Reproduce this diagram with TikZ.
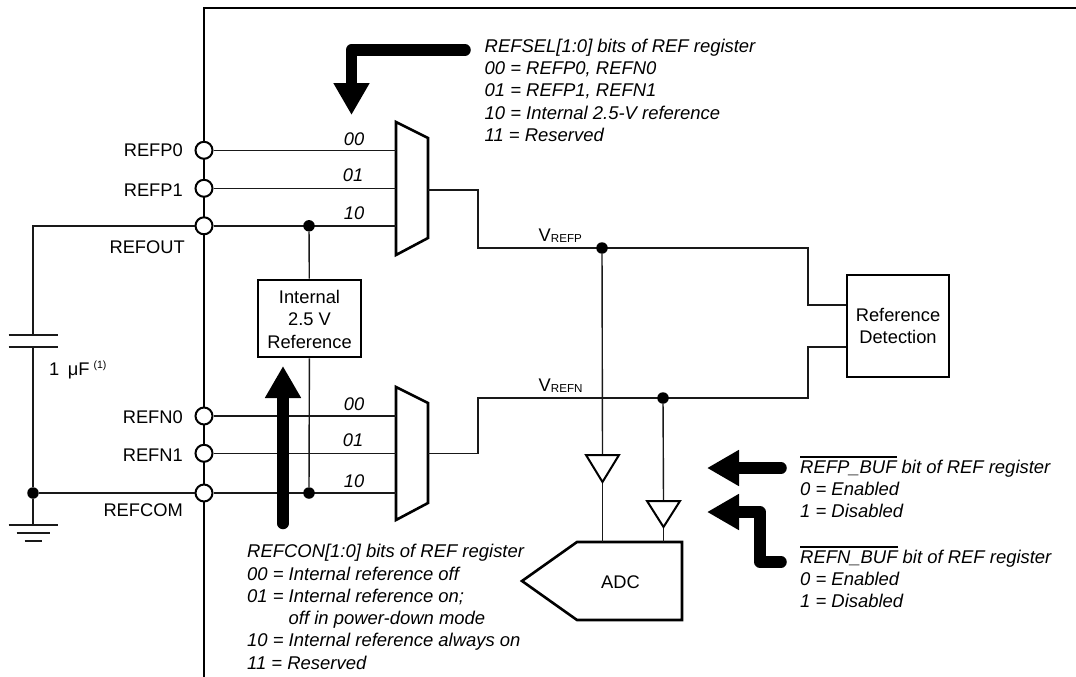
\documentclass[tikz,border=0pt]{standalone}
\usepackage{fontspec}
\setmainfont{Liberation Sans}
\usetikzlibrary{arrows.meta}
\tikzset{
  x=1pt,y=-1pt,
  wire/.style={line width=1.4pt,draw=black!90},
  heavy/.style={line width=2.6pt,draw=black,line join=miter},
  pin/.style={circle,draw=black,line width=2pt,fill=white,minimum size=17pt,inner sep=0pt},
  joint/.style={circle,fill=black,minimum size=11.5pt,inner sep=0pt},
  blockbox/.style={draw=black,line width=2.6pt,fill=white,align=center,inner sep=0pt,font=\fontsize{18.3}{22.4}\selectfont},
  pinlabel/.style={anchor=base east,inner sep=0pt,font=\fontsize{18.3}{22}\selectfont},
  sel/.style={anchor=base,inner sep=0pt,font=\fontsize{18.3}{22}\selectfont\itshape},
  note/.style={anchor=north west,align=left,inner sep=0pt,font=\fontsize{18.45}{22.3}\selectfont\itshape},
  bigarrow/.style={line width=11.5pt,line cap=round,line join=round,draw=black,-{Triangle[length=32pt,width=34pt]}},
  vlabel/.style={anchor=base west,inner sep=0pt,font=\fontsize{18.3}{20}\selectfont},
}
\newcommand{\vsub}[1]{V\raisebox{-1.2pt}{\fontsize{11.6}{12}\selectfont #1}}
\newsavebox{\barbox}
\newcommand{\barred}[1]{\sbox{\barbox}{\itshape #1}\rlap{\raisebox{15.7pt}{\rule{\wd\barbox}{1.3pt}}}\usebox{\barbox}}
\newcommand{\topline}{\rule{0pt}{18pt}}
\begin{document}
\begin{tikzpicture}
\useasboundingbox (0,0) rectangle (1076,677);
% chip border
\coordinate (cTR) at (1076,8); \coordinate (cTL) at (204,8); \coordinate (cBL) at (204,677);
\draw[heavy] (cTR) -- (cTL) -- (cBL);
% pins
\node[pin] (refp0) at (204,150.3) {};
\node[pin] (refp1) at (204,188.3) {};
\node[pin] (refout) at (204,225.8) {};
\node[pin] (refn0) at (204,416) {};
\node[pin] (refn1) at (204,453.3) {};
\node[pin] (refcom) at (204,493) {};
\node[pinlabel] (lp0) at (183,156) {REFP0};
\node[pinlabel] (lp1) at (183,196) {REFP1};
\node[pinlabel] (lo) at (185,253.2) {REFOUT};
\node[pinlabel] (ln0) at (183,423) {REFN0};
\node[pinlabel] (ln1) at (183,461) {REFN1};
\node[pinlabel] (lc) at (183,516.5) {REFCOM};
% muxes
\coordinate (m1a) at (396,122); \coordinate (m1b) at (428,138); \coordinate (m1c) at (428,238); \coordinate (m1d) at (396,255);
\coordinate (m2a) at (396,387); \coordinate (m2b) at (428,403); \coordinate (m2c) at (428,503); \coordinate (m2d) at (396,520);
\draw[heavy] (m1a) -- (m1b) -- (m1c) -- (m1d) -- cycle;
\draw[heavy] (m2a) -- (m2b) -- (m2c) -- (m2d) -- cycle;
% mux input coordinates
\coordinate (i10) at (396,150.3); \coordinate (i11) at (396,188.3); \coordinate (i12) at (396,225.8);
\coordinate (i20) at (396,416); \coordinate (i21) at (396,453.3); \coordinate (i22) at (396,493);
\draw[wire] (refp0) -- (i10);
\draw[wire] (refp1) -- (i11);
\draw[wire] (refout) -- (i12);
\draw[wire] (refn0) -- (i20);
\draw[wire] (refn1) -- (i21);
\draw[wire] (refcom) -- (i22);
\node[sel] (s00) at (354,145) {00};
\node[sel] (s01) at (353,181) {01};
\node[sel] (s10) at (354,219) {10};
\node[sel] (t00) at (354,410) {00};
\node[sel] (t01) at (353,446) {01};
\node[sel] (t10) at (354,487) {10};
% internal reference
\node[joint] (jo) at (309,225.8) {};
\node[joint] (jc) at (309,493) {};
\node[blockbox,minimum width=103pt,minimum height=77pt,text depth=0pt] (iref) at (309.5,318.5) {\raisebox{-1pt}{Internal}\\\raisebox{-1pt}{2.5 V}\\\raisebox{-1pt}{Reference}};
\draw[wire] (jo) -- (iref);
\draw[wire] (iref) -- (jc);
% reference detection
\node[blockbox,minimum width=102pt,minimum height=102pt] (det) at (898,326) {Reference\\Detection};
\coordinate (o1) at (428,190); \coordinate (o1a) at (478,190); \coordinate (o1b) at (478,248);
\coordinate (o1c) at (808,248); \coordinate (o1d) at (808,305); \coordinate (d1) at (det.west |- o1d);
\coordinate (o2) at (428,453.3); \coordinate (o2a) at (478,453.3); \coordinate (o2b) at (478,398);
\coordinate (o2c) at (808,398); \coordinate (o2d) at (808,347); \coordinate (d2) at (det.west |- o2d);
\draw[wire] (o1) -- (o1a) -- (o1b) -- (o1c) -- (o1d) -- (d1);
\draw[wire] (o2) -- (o2a) -- (o2b) -- (o2c) -- (o2d) -- (d2);
\node[vlabel] (vp) at (538.5,241) {\vsub{REFP}};
\node[vlabel] (vn) at (538.5,391.5) {\vsub{REFN}};
\node[joint] (jp) at (602,248) {};
\node[joint] (jn) at (663,398) {};
% ADC
\node[anchor=base,inner sep=0pt,font=\fontsize{18.3}{22}\selectfont] (adc) at (620.5,588) {ADC};
\coordinate (a1) at (577,542); \coordinate (a2) at (682,542); \coordinate (a3) at (682,620); \coordinate (a4) at (577,620); \coordinate (a5) at (522,581);
\draw[heavy] (a1) -- (a2) -- (a3) -- (a4) -- (a5) -- cycle;
% buffers
\coordinate (b1t) at (602.5,455); \coordinate (b1l) at (586,455); \coordinate (b1r) at (619,455); \coordinate (b1b) at (602.5,482); \coordinate (b1a) at (602.5,542);
\coordinate (b2t) at (663.5,501); \coordinate (b2l) at (647,501); \coordinate (b2r) at (680,501); \coordinate (b2b) at (663.5,527); \coordinate (b2a) at (663.5,542);
\draw[wire] (jp) -- (b1t);
\draw[wire] (b1b) -- (b1a);
\draw[wire] (jn) -- (b2t);
\draw[wire] (b2b) -- (b2a);
\draw[line width=2pt] (b1l) -- (b1r) -- (b1b) -- cycle;
\draw[line width=2pt] (b2l) -- (b2r) -- (b2b) -- cycle;
% capacitor and ground
\coordinate (c1) at (33,225.8); \coordinate (c2) at (33,335); \coordinate (c3) at (33,347);
\coordinate (gnd) at (33,525);
\node[joint] (jg) at (33,493) {};
\draw[wire] (refout) -- (c1) -- (c2);
\draw[wire] (c3) -- (jg);
\draw[wire] (refcom) -- (jg);
\draw[wire] (jg) -- (gnd);
\draw[wire] ([xshift=-24.5pt]c2) -- ([xshift=24.5pt]c2);
\draw[wire] ([xshift=-24.5pt]c3) -- ([xshift=24.5pt]c3);
\draw[wire] ([xshift=-24.5pt]gnd) -- ([xshift=24.5pt]gnd);
\draw[wire] ([xshift=-16.5pt,yshift=-8pt]gnd) -- ([xshift=16.5pt,yshift=-8pt]gnd);
\draw[wire] ([xshift=-8.5pt,yshift=-16pt]gnd) -- ([xshift=8.5pt,yshift=-16pt]gnd);
\node[anchor=base west,inner sep=0pt,font=\fontsize{18.3}{22}\selectfont] (cval) at (49,375) {1\hspace{8.5pt}μF\hspace{4pt}\raisebox{7pt}{\fontsize{10.5}{12}\selectfont (1)}};
% thick arrows
\coordinate (ar1s) at (465,50); \coordinate (ar1m) at (351.5,50); \coordinate (ar1e) at (351.5,115);
\draw[bigarrow] (ar1s) -- (ar1m) -- (ar1e);
\coordinate (ar2s) at (283,523.5); \coordinate (ar2e) at (283,366);
\draw[bigarrow] (ar2s) -- (ar2e);
\coordinate (ar3s) at (781,468); \coordinate (ar3e) at (707,468);
\draw[bigarrow] (ar3s) -- (ar3e);
\coordinate (ar4s) at (781,562); \coordinate (ar4a) at (760,562); \coordinate (ar4b) at (760,512); \coordinate (ar4e) at (707,512);
\draw[bigarrow] (ar4s) -- (ar4a) -- (ar4b) -- (ar4e);
% notes
\node[note] (n1) at (484.5,34) {\topline REFSEL[1:0] bits of REF register\\00 = REFP0, REFN0\\01 = REFP1, REFN1\\10 = Internal 2.5-V reference\\11 = Reserved};
\node[note] (n2) at (247,539.5) {\topline REFCON[1:0] bits of REF register\\00 = Internal reference off\\01 = Internal reference on;\\\hspace*{41.5pt}off in power-down mode\\10 = Internal reference always on\\11 = Reserved};
\node[note] (n3) at (800,455) {\topline\barred{REFP\_BUF} bit of REF register\\0 = Enabled\\1 = Disabled};
\node[note] (n4) at (800,545) {\topline\barred{REFN\_BUF} bit of REF register\\0 = Enabled\\1 = Disabled};
\end{tikzpicture}
\end{document}
